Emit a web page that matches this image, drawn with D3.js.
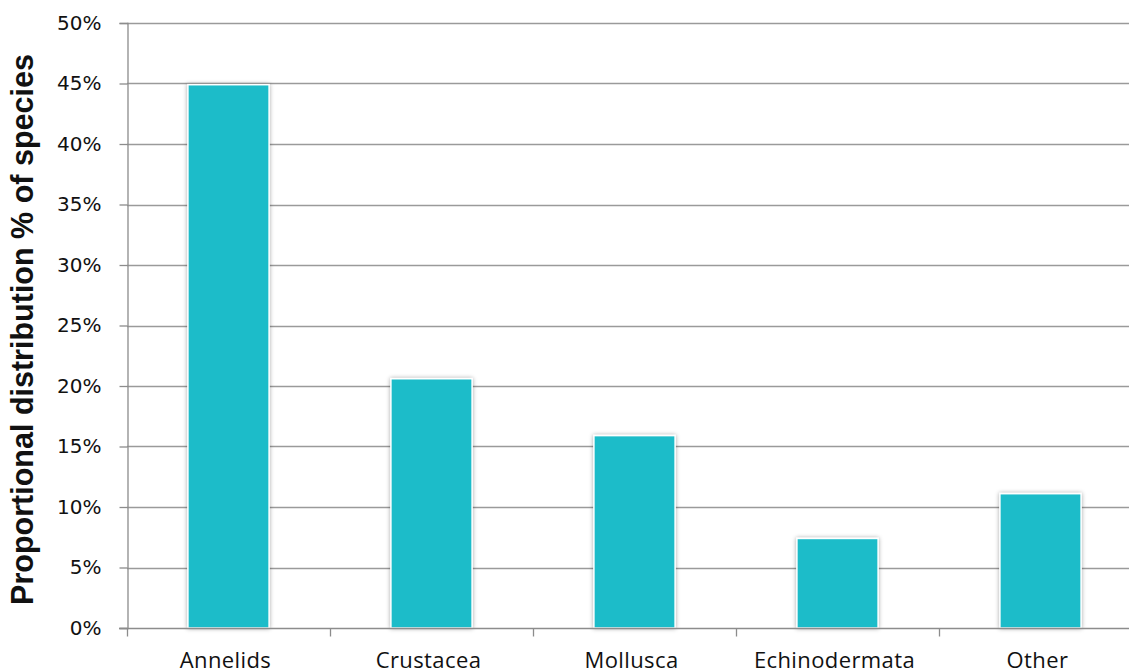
<!DOCTYPE html>
<html>
<head>
<meta charset="utf-8">
<script src="https://cdn.jsdelivr.net/npm/d3@7"></script>
<style>
  html, body { margin: 0; padding: 0; background: #fff; }
  svg { display: block; }
</style>
</head>
<body>
<svg id="chart" width="1129" height="671"></svg>
<script>
// Species groups and their share of all recorded species
const categories = ["Annelids", "Crustacea", "Mollusca", "Echinodermata", "Other"];
const shares = [0.449, 0.206, 0.159, 0.074, 0.111];
const yTicks = [0, 0.05, 0.10, 0.15, 0.20, 0.25, 0.30, 0.35, 0.40, 0.45, 0.50];
const yTitle = "Proportional distribution % of species";

const svg = d3.select("#chart");
const plotLeft = 127, plotRight = 1142, plotTop = 23, plotBottom = 628;

const x = d3.scaleBand().domain(categories).range([plotLeft, plotRight]).paddingInner(0.6).paddingOuter(0.3);
const y = d3.scaleLinear().domain([0, 0.5]).range([plotBottom, plotTop]);

// soft shadow behind each bar
const defs = svg.append("defs");
const f = defs.append("filter").attr("id", "barShadow")
  .attr("x", "-20%").attr("y", "-20%").attr("width", "140%").attr("height", "140%");
f.append("feDropShadow").attr("dx", 0).attr("dy", 0).attr("stdDeviation", 2.2)
  .attr("flood-color", "#000").attr("flood-opacity", 0.35);

// horizontal gridlines
svg.append("g").selectAll("line").data(yTicks.filter(d => d > 0)).join("line")
  .attr("x1", plotLeft).attr("x2", 1129)
  .attr("y1", d => Math.round(y(d)) + 0.5).attr("y2", d => Math.round(y(d)) + 0.5)
  .attr("stroke", "#9a9a9a").attr("stroke-width", 1.3);

// bars
svg.append("g").selectAll("rect").data(categories).join("rect")
  .attr("x", d => x(d))
  .attr("y", (d, i) => y(shares[i]))
  .attr("width", x.bandwidth())
  .attr("height", (d, i) => plotBottom - y(shares[i]))
  .attr("fill", "#1dbcc9")
  .attr("stroke", "#ffffff").attr("stroke-width", 1.5)
  .attr("filter", "url(#barShadow)");

// y axis
const yAxis = svg.append("g").attr("transform", `translate(${plotLeft + 0.5},0)`)
  .call(d3.axisLeft(y).tickValues(yTicks).tickFormat(d3.format(".0%")).tickSize(8).tickPadding(18));
yAxis.select(".domain").attr("stroke", "#8c8c8c").attr("stroke-width", 1.3);
yAxis.selectAll(".tick line").attr("stroke", "#8c8c8c").attr("stroke-width", 1.3);
yAxis.selectAll(".tick text").attr("font-family", "DejaVu Sans, sans-serif")
  .attr("font-size", 20).attr("fill", "#111");

// x axis with category boundary ticks
const xg = svg.append("g").attr("transform", `translate(0,${plotBottom + 0.5})`);
xg.append("line").attr("x1", plotLeft - 8).attr("x2", 1129).attr("y1", 0).attr("y2", 0)
  .attr("stroke", "#8c8c8c").attr("stroke-width", 1.3);
const bounds = d3.range(categories.length + 1).map(i => plotLeft + i * (plotRight - plotLeft) / categories.length);
xg.selectAll("line.b").data(bounds).join("line").attr("class", "b")
  .attr("x1", d => Math.round(d) + 0.5).attr("x2", d => Math.round(d) + 0.5)
  .attr("y1", 0).attr("y2", 8).attr("stroke", "#8c8c8c").attr("stroke-width", 1.3);
xg.selectAll("text").data(categories).join("text")
  .attr("x", d => x(d) + x.bandwidth() / 2 - 3).attr("y", 39.5)
  .attr("text-anchor", "middle")
  .attr("font-family", "Open Sans, sans-serif").attr("font-size", 22)
  .attr("letter-spacing", 0.4).attr("fill", "#111")
  .text(d => d);

// y axis title
svg.append("text")
  .attr("transform", `translate(33,${(plotTop + plotBottom) / 2 + 4}) rotate(-90)`)
  .attr("text-anchor", "middle")
  .attr("font-family", "Liberation Sans, Arial, sans-serif").attr("font-weight", "bold")
  .attr("font-size", 30.5).attr("fill", "#111")
  .text(yTitle);
</script>
</body>
</html>
